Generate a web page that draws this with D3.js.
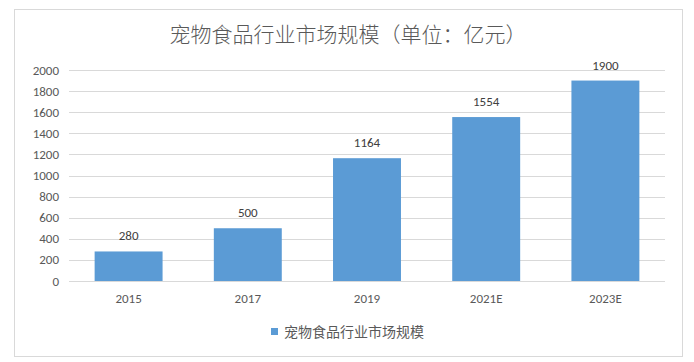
<!DOCTYPE html>
<html lang="zh">
<head>
<meta charset="utf-8">
<title>宠物食品行业市场规模</title>
<script src="https://d3js.org/d3.v7.min.js"></script>
<style>
body { margin: 0; background: #fff; font-family: "Noto Sans CJK SC", "Microsoft YaHei", sans-serif; }
</style>
</head>
<body>
<div id="vis"></div>
<script>

/* Data */
var categories = ['2015', '2017', '2019', '2021E', '2023E'];
var values = [280, 500, 1164, 1554, 1900];
var yTicks = [0, 200, 400, 600, 800, 1000, 1200, 1400, 1600, 1800, 2000];
var title = '宠物食品行业市场规模（单位：亿元）';
var seriesName = '宠物食品行业市场规模';

/* SVG */
var W = 694, H = 362;
var margin = { top: 70, right: 29, bottom: 81, left: 69 },
	width = W - margin.left - margin.right,
	height = H - margin.top - margin.bottom;

var svg = d3.select('#vis').append('svg')
	.attr('width', W)
	.attr('height', H);

// outer frame
svg.append('rect')
	.attr('x', 14.5).attr('y', 9.5)
	.attr('width', 668).attr('height', 347)
	.attr('fill', '#fff')
	.attr('stroke', '#d9d9d9');

svg.append('text')
	.attr('x', 348).attr('y', 42)
	.attr('text-anchor', 'middle')
	.attr('fill', '#595959')
	.style('font-size', '21px')
	.style('font-weight', '300')
	.text(title);

var g = svg.append('g')
	.attr('transform', 'translate(' + margin.left + ',' + margin.top + ')');

var x = d3.scaleBand()
	.domain(categories)
	.range([0, width])
	.paddingInner(0.43)
	.paddingOuter(0.215);

var y = d3.scaleLinear()
	.domain([0, 2000])
	.range([height, 0]);

var numFont = 'Calibri, Carlito, "Open Sans", sans-serif';

// gridlines
g.selectAll('.grid')
	.data(yTicks)
	.enter().append('line')
	.attr('x1', 0).attr('x2', width)
	.attr('y1', function(d) { return Math.round(y(d)) + 0.5; })
	.attr('y2', function(d) { return Math.round(y(d)) + 0.5; })
	.attr('stroke', '#d9d9d9');

// y tick labels
g.selectAll('.ylab')
	.data(yTicks)
	.enter().append('text')
	.attr('x', -10)
	.attr('y', function(d) { return y(d); })
	.attr('dy', '0.35em')
	.attr('text-anchor', 'end')
	.attr('fill', '#595959')
	.style('font-size', '13px')
	.style('font-family', numFont)
	.text(function(d) { return d; });

// bars
g.selectAll('.bar')
	.data(values)
	.enter().append('rect')
	.attr('x', function(d, i) { return x(categories[i]); })
	.attr('width', x.bandwidth())
	.attr('y', function(d) { return y(d); })
	.attr('height', function(d) { return height - y(d); })
	.attr('fill', '#5b9bd5');

// value labels
g.selectAll('.vlab')
	.data(values)
	.enter().append('text')
	.attr('x', function(d, i) { return x(categories[i]) + x.bandwidth() / 2; })
	.attr('y', function(d) { return y(d) - 11; })
	.attr('text-anchor', 'middle')
	.attr('fill', '#404040')
	.style('font-size', '13px')
	.style('font-family', numFont)
	.text(function(d) { return d; });

// category labels
g.selectAll('.xlab')
	.data(categories)
	.enter().append('text')
	.attr('x', function(d) { return x(d) + x.bandwidth() / 2; })
	.attr('y', height + 22)
	.attr('text-anchor', 'middle')
	.attr('fill', '#595959')
	.style('font-size', '13px')
	.style('font-family', numFont)
	.text(function(d) { return d; });

// legend
var legend = svg.append('g').attr('transform', 'translate(271,332)');
legend.append('rect')
	.attr('x', 0).attr('y', -4)
	.attr('width', 7).attr('height', 7)
	.attr('fill', '#5b9bd5');
legend.append('text')
	.attr('x', 13).attr('y', 0)
	.attr('dy', '0.35em')
	.attr('fill', '#595959')
	.style('font-size', '14px')
	.text(seriesName);

</script>
</body>
</html>
